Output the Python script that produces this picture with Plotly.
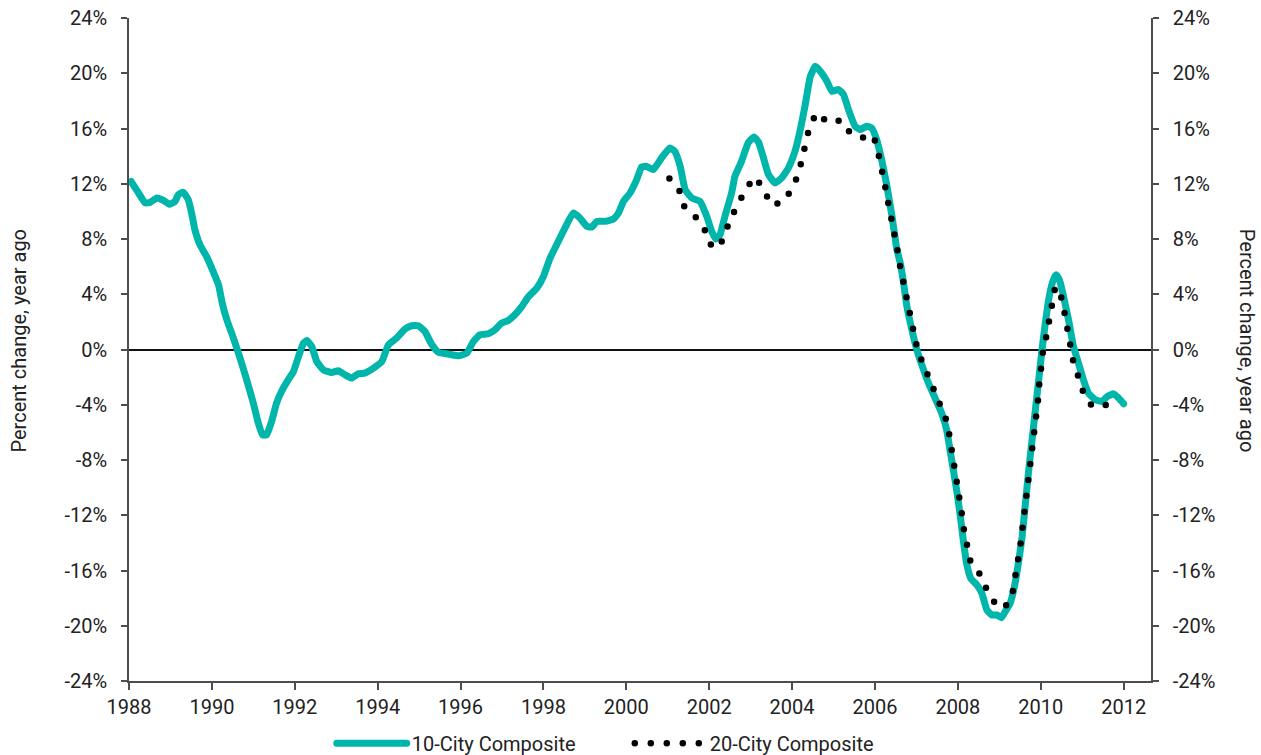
import plotly.graph_objects as go

# S&P/Case-Shiller home price indices, year-over-year percent change
CITY10_YEARS = [
    1988.05, 1988.22, 1988.39, 1988.51, 1988.67, 1988.83, 1988.97, 1989.11, 1989.19, 1989.31,
    1989.43, 1989.51, 1989.59, 1989.71, 1989.88, 1990.03, 1990.16, 1990.25, 1990.36, 1990.52,
    1990.68, 1990.84, 1991.00, 1991.12, 1991.22, 1991.32, 1991.44, 1991.56, 1991.68, 1991.84,
    1991.97, 1992.09, 1992.21, 1992.29, 1992.41, 1992.53, 1992.69, 1992.89, 1993.05, 1993.21,
    1993.37, 1993.53, 1993.69, 1993.90, 1994.10, 1994.26, 1994.46, 1994.66, 1994.82, 1994.98,
    1995.14, 1995.30, 1995.47, 1995.67, 1995.95, 1996.15, 1996.31, 1996.47, 1996.67, 1996.83,
    1996.99, 1997.15, 1997.35, 1997.48, 1997.64, 1997.84, 1998.00, 1998.16, 1998.32, 1998.52,
    1998.72, 1998.88, 1999.05, 1999.17, 1999.29, 1999.49, 1999.69, 1999.81, 1999.93, 2000.09,
    2000.25, 2000.37, 2000.49, 2000.65, 2000.85, 2001.05, 2001.17, 2001.30, 2001.42, 2001.58,
    2001.78, 2001.94, 2002.06, 2002.16, 2002.26, 2002.38, 2002.54, 2002.62, 2002.78, 2002.94,
    2003.08, 2003.19, 2003.31, 2003.43, 2003.59, 2003.75, 2003.91, 2004.07, 2004.19, 2004.31,
    2004.44, 2004.56, 2004.68, 2004.84, 2004.96, 2005.12, 2005.24, 2005.36, 2005.52, 2005.64,
    2005.80, 2005.92, 2006.04, 2006.16, 2006.29, 2006.41, 2006.53, 2006.61, 2006.69, 2006.77,
    2006.89, 2007.01, 2007.13, 2007.29, 2007.45, 2007.61, 2007.73, 2007.81, 2007.89, 2007.97,
    2008.05, 2008.13, 2008.21, 2008.31, 2008.46, 2008.58, 2008.70, 2008.82, 2008.94, 2009.05,
    2009.14, 2009.26, 2009.38, 2009.46, 2009.55, 2009.63, 2009.71, 2009.79, 2009.87, 2009.95,
    2010.03, 2010.11, 2010.19, 2010.29, 2010.37, 2010.45, 2010.55, 2010.67, 2010.79, 2010.91,
    2011.03, 2011.15, 2011.32, 2011.48, 2011.60, 2011.76, 2011.88, 2012.00,
]
CITY10_VALUES = [
    12.17, 11.38, 10.61, 10.65, 10.97, 10.80, 10.51, 10.72, 11.21, 11.38,
    10.85, 9.88, 8.67, 7.59, 6.69, 5.65, 4.69, 3.36, 2.15, 0.83,
    -0.62, -2.20, -3.88, -5.33, -6.18, -6.18, -5.22, -3.88, -3.04, -2.20,
    -1.59, -0.51, 0.46, 0.65, 0.22, -0.87, -1.47, -1.67, -1.54, -1.83,
    -2.07, -1.76, -1.71, -1.35, -0.87, 0.34, 0.83, 1.48, 1.72, 1.72,
    1.30, 0.40, -0.22, -0.31, -0.46, -0.26, 0.58, 1.07, 1.14, 1.43,
    1.91, 2.10, 2.64, 3.12, 3.84, 4.45, 5.29, 6.62, 7.59, 8.80,
    9.88, 9.52, 8.91, 8.87, 9.28, 9.28, 9.45, 9.88, 10.72, 11.33,
    12.30, 13.22, 13.26, 13.02, 13.87, 14.59, 14.35, 13.26, 11.57, 10.97,
    10.72, 9.64, 8.55, 8.00, 8.31, 9.64, 11.33, 12.54, 13.62, 14.96,
    15.39, 15.00, 13.87, 12.66, 12.06, 12.42, 13.14, 14.35, 15.80, 17.61,
    19.78, 20.51, 20.14, 19.42, 18.70, 18.82, 18.46, 17.37, 16.16, 15.92,
    16.16, 16.04, 15.20, 13.75, 11.81, 9.64, 7.22, 6.26, 4.81, 3.12,
    1.43, -0.02, -1.11, -2.43, -3.52, -4.61, -5.82, -7.27, -8.72, -10.17,
    -11.86, -13.79, -15.48, -16.57, -17.05, -17.65, -18.86, -19.22, -19.22, -19.42,
    -18.99, -18.38, -16.93, -15.48, -13.55, -11.13, -8.72, -6.54, -4.37, -2.20,
    -0.02, 1.91, 3.60, 4.93, 5.41, 5.05, 3.84, 2.15, 0.22, -0.99,
    -2.20, -3.16, -3.64, -3.77, -3.41, -3.21, -3.52, -3.93,
]

CITY20_YEARS = [
    2001.04, 2001.28, 2001.40, 2001.66, 2001.88, 2002.00, 2002.24, 2002.39, 2002.53, 2002.71,
    2002.88, 2003.11, 2003.32, 2003.49, 2003.77, 2003.99, 2004.15, 2004.24, 2004.34, 2004.42,
    2004.59, 2004.87, 2005.18, 2005.40, 2005.66, 2005.96, 2006.07, 2006.17, 2006.23, 2006.30,
    2006.39, 2006.46, 2006.53, 2006.59, 2006.67, 2006.73, 2006.81, 2006.89, 2006.99, 2007.11,
    2007.25, 2007.39, 2007.56, 2007.71, 2007.79, 2007.86, 2007.92, 2007.98, 2008.03, 2008.10,
    2008.15, 2008.21, 2008.31, 2008.55, 2008.70, 2008.89, 2009.12, 2009.31, 2009.38, 2009.45,
    2009.50, 2009.55, 2009.60, 2009.66, 2009.71, 2009.75, 2009.79, 2009.84, 2009.88, 2009.93,
    2009.96, 2010.00, 2010.05, 2010.13, 2010.19, 2010.25, 2010.34, 2010.41, 2010.49, 2010.57,
    2010.64, 2010.70, 2010.78, 2010.90, 2011.02, 2011.23, 2011.50, 2011.82,
]
CITY20_VALUES = [
    12.38, 11.50, 10.35, 9.64, 8.76, 7.65, 7.35, 8.46, 9.57, 10.58,
    11.62, 12.49, 11.57, 10.46, 10.65, 11.59, 12.68, 13.80, 14.96, 16.12,
    17.13, 16.41, 16.59, 15.68, 15.32, 15.51, 14.35, 13.19, 12.06, 10.90,
    9.71, 8.58, 7.42, 6.26, 5.10, 3.96, 2.75, 1.62, 0.46, -0.67,
    -1.71, -2.80, -3.88, -5.02, -6.13, -7.32, -8.48, -9.64, -10.82, -11.98,
    -13.14, -14.28, -15.43, -16.33, -17.41, -18.33, -18.74, -17.78, -16.64, -15.48,
    -14.35, -13.14, -11.98, -10.82, -9.64, -8.43, -7.27, -6.11, -4.97, -3.81,
    -2.63, -1.42, -0.22, 0.90, 2.06, 3.19, 4.38, 4.55, 3.84, 2.71,
    1.50, 0.36, -0.80, -1.91, -3.04, -4.08, -4.13, -3.57,
]

YEAR_TICKS = list(range(1988, 2013, 2))
YEAR_LABELS = [str(y) for y in YEAR_TICKS]
PCT_TICKS = list(range(-24, 25, 4))
PCT_LABELS = [f"{v}%" for v in PCT_TICKS]

TEAL = "#00b5aa"
INK = "#222222"
AXIS = "#4d4d4d"
FONT = "Roboto, 'Open Sans', sans-serif"
FONT_SIZE = 20
X_RANGE = [1988, 2012.66]
Y_RANGE = [-24, 24]

fig = go.Figure()
fig.add_trace(go.Scatter(
    x=CITY10_YEARS, y=CITY10_VALUES, name="10-City Composite", mode="lines",
    line=dict(color=TEAL, width=7, shape="spline", smoothing=0.4),
    yaxis="y", hoverinfo="skip",
))
fig.add_trace(go.Scatter(
    x=CITY20_YEARS, y=CITY20_VALUES, name="20-City Composite", mode="lines",
    line=dict(color="#000000", width=6.5, dash="0px,16px"),
    yaxis="y2", hoverinfo="skip",
))

tickfont = dict(family=FONT, size=FONT_SIZE, color=INK)
fig.update_layout(
    width=1261, height=755,
    margin=dict(l=129, r=110, t=18, b=74, autoexpand=False),
    paper_bgcolor="white", plot_bgcolor="white",
    font=dict(family=FONT, size=FONT_SIZE, color=INK),
    showlegend=True,
    legend=dict(
        orientation="h", x=0.490, xanchor="center", y=-0.094, yanchor="middle",
        font=dict(family=FONT, size=FONT_SIZE, color=INK), itemwidth=70,
        entrywidth=213, entrywidthmode="pixels",
        bgcolor="rgba(0,0,0,0)",
    ),
    xaxis=dict(
        range=X_RANGE, tickvals=YEAR_TICKS, ticktext=YEAR_LABELS,
        ticks="outside", ticklen=7, tickwidth=1.5, tickcolor=AXIS,
        showline=True, linecolor=AXIS, linewidth=1.5,
        showgrid=False, zeroline=False, tickfont=tickfont,
    ),
    yaxis=dict(
        range=Y_RANGE, tickvals=PCT_TICKS, ticktext=PCT_LABELS,
        ticks="outside", ticklen=6, tickwidth=1.5, tickcolor=AXIS,
        showline=True, linecolor=AXIS, linewidth=1.5,
        showgrid=False, zeroline=True, zerolinecolor="#111111", zerolinewidth=2,
        tickfont=tickfont, ticklabelstandoff=10,
    ),
    yaxis2=dict(
        range=Y_RANGE, tickvals=PCT_TICKS, ticktext=PCT_LABELS,
        overlaying="y", side="right", anchor="x",
        ticks="outside", ticklen=6, tickwidth=1.5, tickcolor=AXIS,
        showline=True, linecolor=AXIS, linewidth=1.5,
        showgrid=False, zeroline=False, tickfont=tickfont, ticklabelstandoff=10,
    ),
    yaxis3=dict(
        range=Y_RANGE, tickvals=PCT_TICKS, overlaying="y", side="right", anchor="x",
        ticks="inside", ticklen=6, tickwidth=1.5, tickcolor=AXIS,
        showticklabels=False, showline=False, showgrid=False, zeroline=False,
    ),
    annotations=[
        dict(text="Percent change, year ago", xref="paper", yref="paper",
             x=-0.108, y=0.513, xanchor="center", yanchor="middle",
             textangle=-90, showarrow=False, font=dict(family=FONT, size=FONT_SIZE, color=INK)),
        dict(text="Percent change, year ago", xref="paper", yref="paper",
             x=1.094, y=0.513, xanchor="center", yanchor="middle",
             textangle=90, showarrow=False, font=dict(family=FONT, size=FONT_SIZE, color=INK)),
    ],
)

# Round line caps: gives the teal line soft ends and turns the
# zero-length dashes of the 20-City series into round dots.
ROUND_CAPS_JS = """
var gd = document.getElementById('{plot_id}');
function roundCaps() {
  gd.querySelectorAll('path.js-line').forEach(function (p) {
    p.style.strokeLinecap = 'round';
  });
}
roundCaps();
if (gd.on) { gd.on('plotly_afterplot', roundCaps); }
setTimeout(roundCaps, 50);
"""

fig.write_html("out.html", post_script=ROUND_CAPS_JS)
